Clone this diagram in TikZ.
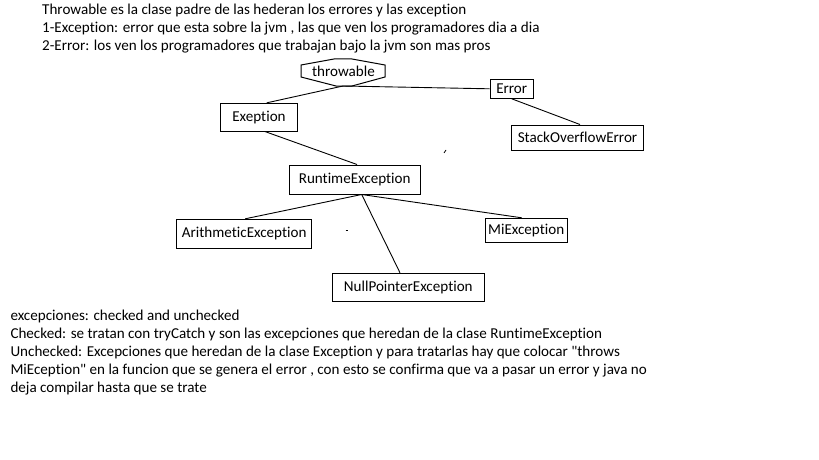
\documentclass[tikz,border=0pt]{standalone}
\usepackage{fontspec}
\setmainfont{Carlito}[Ligatures={NoCommon,TeXOff}]
\begin{document}
\begin{tikzpicture}[x=1pt,y=-1pt,line width=1pt,
  every node/.style={font=\fontsize{15.1}{17.9}\selectfont,inner sep=0pt},
  txt/.style={anchor=base west},
  cls/.style={draw,rectangle,align=center},
  link/.style={draw,line width=0.9pt}]
\useasboundingbox (0,0) rectangle (819,460);
\fill[white] (0,0) rectangle (819,460);
% top notes
\node[txt] (n1) at (41.7,15) {Throwable es la clase padre de las hederan los errores y las exception};
\node[txt] (n2) at (41.7,33) {1-Exception: error que esta sobre la jvm , las que ven los programadores dia a dia};
\node[txt] (n3) at (41.7,51) {2-Error: los ven los programadores que trabajan bajo la jvm son mas pros};
% throwable hexagon
\node (thr) at (343.5,71) {throwable};
\coordinate (thrB) at (343,86);
\draw (301,65) -- (334,59) -- (352,59) -- (385,65) -- (385,77) -- (352,86) -- (336,86) -- (301,77) -- cycle;
% class boxes
\node[cls,minimum width=76.6pt,minimum height=27.7pt] (exc) at (259,117.2) {Exeption};
\node[cls,minimum width=43.3pt,minimum height=19pt] (err) at (511.7,88.8) {Error};
\node[cls,minimum width=131.6pt,minimum height=25pt] (soe) at (577.5,137.5) {StackOverflowError};
\node[cls,minimum width=130.7pt,minimum height=29pt] (rte) at (354.7,179.5) {RuntimeException};
\node[cls,minimum width=135pt,minimum height=29pt] (ari) at (244.2,233.8) {ArithmeticException};
\node[cls,minimum width=82.3pt,minimum height=24pt] (mi) at (526.2,230.3) {MiException};
\node[cls,minimum width=152pt,minimum height=28.4pt] (npe) at (408.3,287.5) {NullPointerException};
% connectors
\draw[link] (thrB) -- ([xshift=7.7pt]exc.north);
\draw[link] (thrB) -- (err.west);
\draw[link] (err.south) -- ([xshift=2.5pt]soe.north);
\draw[link] ([xshift=6pt]exc.south) -- ([xshift=2.3pt]rte.north);
\draw[link] ([xshift=7pt]rte.south) -- ([xshift=1pt]ari.north);
\draw[link] ([xshift=7pt]rte.south) -- ([xshift=-4.5pt]mi.north);
\draw[link] ([xshift=7pt]rte.south) -- ([xshift=-8.3pt]npe.north);
% stray marks
\coordinate (m1) at (444,153);
\coordinate (m2) at (446,150);
\draw[line width=0.8pt] (m1) -- (m2);
\coordinate (m3) at (345.5,230);
\coordinate (m4) at (347.5,230);
\draw[line width=0.8pt] (m3) -- (m4);
% bottom notes
\node[txt] (b1) at (10,320.7) {excepciones: checked and unchecked};
\node[txt] (b2) at (10,338.6) {Checked: se tratan con tryCatch y son las excepciones que heredan de la clase RuntimeException};
\node[txt] (b3) at (10,356.5) {Unchecked: Excepciones que heredan de la clase Exception y para tratarlas hay que colocar "throws};
\node[txt] (b4) at (10,374.4) {MiEception" en la funcion que se genera el error , con esto se confirma que va a pasar un error y java no};
\node[txt] (b5) at (10,392.3) {deja compilar hasta que se trate};
\end{tikzpicture}
\end{document}
